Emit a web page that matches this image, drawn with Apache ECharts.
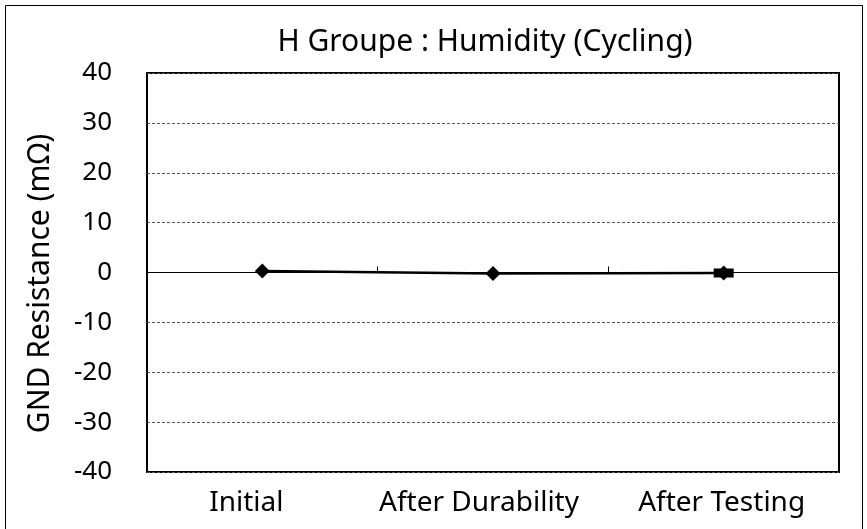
<!DOCTYPE html>
<html>
<head>
<meta charset="utf-8">
<script src="https://cdn.jsdelivr.net/npm/echarts@6/dist/echarts.min.js"></script>
<style>
  html, body { margin: 0; padding: 0; background: #fff; }
  #chart { width: 867px; height: 529px; }
</style>
</head>
<body>
<div id="chart"></div>
<script>
// chart data
var categories = ['Initial', 'After Durability', 'After Testing']
var groundValues = [0.3, -0.2, -0.1]
var extraValues = [null, null, -0.1]
var yTicks = { min: -40, max: 40, interval: 10 }

var fontFamily = '"Noto Sans", "DejaVu Sans", sans-serif'

// Excel put the category labels a little left of the tick centres
var labelShift = { 'Initial': 32, 'After Durability': 28, 'After Testing': 4 }

var chart = echarts.init(document.getElementById('chart'), null, { renderer: 'canvas' })

var option = {
  backgroundColor: '#ffffff',
  animation: false,
  title: {
    text: 'H Groupe : Humidity (Cycling)',
    left: 480,
    top: 22,
    textAlign: 'center',
    textStyle: { fontFamily: fontFamily, fontSize: 30, fontWeight: 'normal', color: '#000' }
  },
  graphic: [
    {
      type: 'rect',
      shape: { x: 5.5, y: 5.5, width: 857, height: 530 },
      style: { fill: 'none', stroke: '#000', lineWidth: 1 },
      silent: true
    }
  ],
  grid: {
    left: 147, right: 28, top: 73, bottom: 57,
    outerBoundsMode: 'none',
    containLabel: false,
    show: true, borderColor: '#000', borderWidth: 2, backgroundColor: 'transparent'
  },
  xAxis: [
    {
      // bottom axis: only the labels
      type: 'category',
      data: categories,
      position: 'bottom',
      axisLine: { show: false, onZero: false },
      axisTick: { show: false },
      axisLabel: {
        interval: 0,
        margin: 17,
        formatter: function (v) { return '{s' + categories.indexOf(v) + '|' + v + '}' },
        rich: {
          s0: { fontFamily: fontFamily, fontSize: 28, color: '#000', padding: [0, labelShift['Initial'], 0, 0] },
          s1: { fontFamily: fontFamily, fontSize: 28, color: '#000', padding: [0, labelShift['After Durability'], 0, 0] },
          s2: { fontFamily: fontFamily, fontSize: 28, color: '#000', padding: [0, labelShift['After Testing'], 0, 0] }
        }
      },
      splitLine: { show: false }
    },
    {
      // zero line with the category ticks
      type: 'category',
      data: categories,
      position: 'bottom',
      axisLine: { onZero: true, onZeroAxisIndex: 0, lineStyle: { color: '#000', width: 1 } },
      axisTick: { show: true, inside: true, length: 6, lineStyle: { color: '#000' } },
      axisLabel: { show: false },
      splitLine: { show: false }
    }
  ],
  yAxis: {
    type: 'value',
    min: yTicks.min,
    max: yTicks.max,
    interval: yTicks.interval,
    name: 'GND Resistance (mΩ)',
    nameLocation: 'middle',
    nameGap: 92,
    nameTextStyle: { fontFamily: fontFamily, fontSize: 30, color: '#000', padding: [0, 22, 0, 0] },
    axisLine: { show: false },
    axisTick: { show: false },
    axisLabel: { color: '#000', fontFamily: fontFamily, fontSize: 26, margin: 35 },
    splitLine: { show: true, lineStyle: { color: '#555', type: [3, 2], width: 1 } }
  },
  series: [
    {
      type: 'line',
      xAxisIndex: 0,
      data: groundValues,
      symbol: 'diamond',
      symbolSize: [15, 15],
      showAllSymbol: true,
      lineStyle: { color: '#000', width: 2.5 },
      itemStyle: { color: '#000' },
      z: 3
    },
    {
      type: 'line',
      xAxisIndex: 0,
      data: extraValues,
      symbol: 'rect',
      symbolSize: [20, 9],
      lineStyle: { width: 0 },
      itemStyle: { color: '#000' },
      z: 4
    }
  ]
}

chart.setOption(option)
</script>
</body>
</html>
